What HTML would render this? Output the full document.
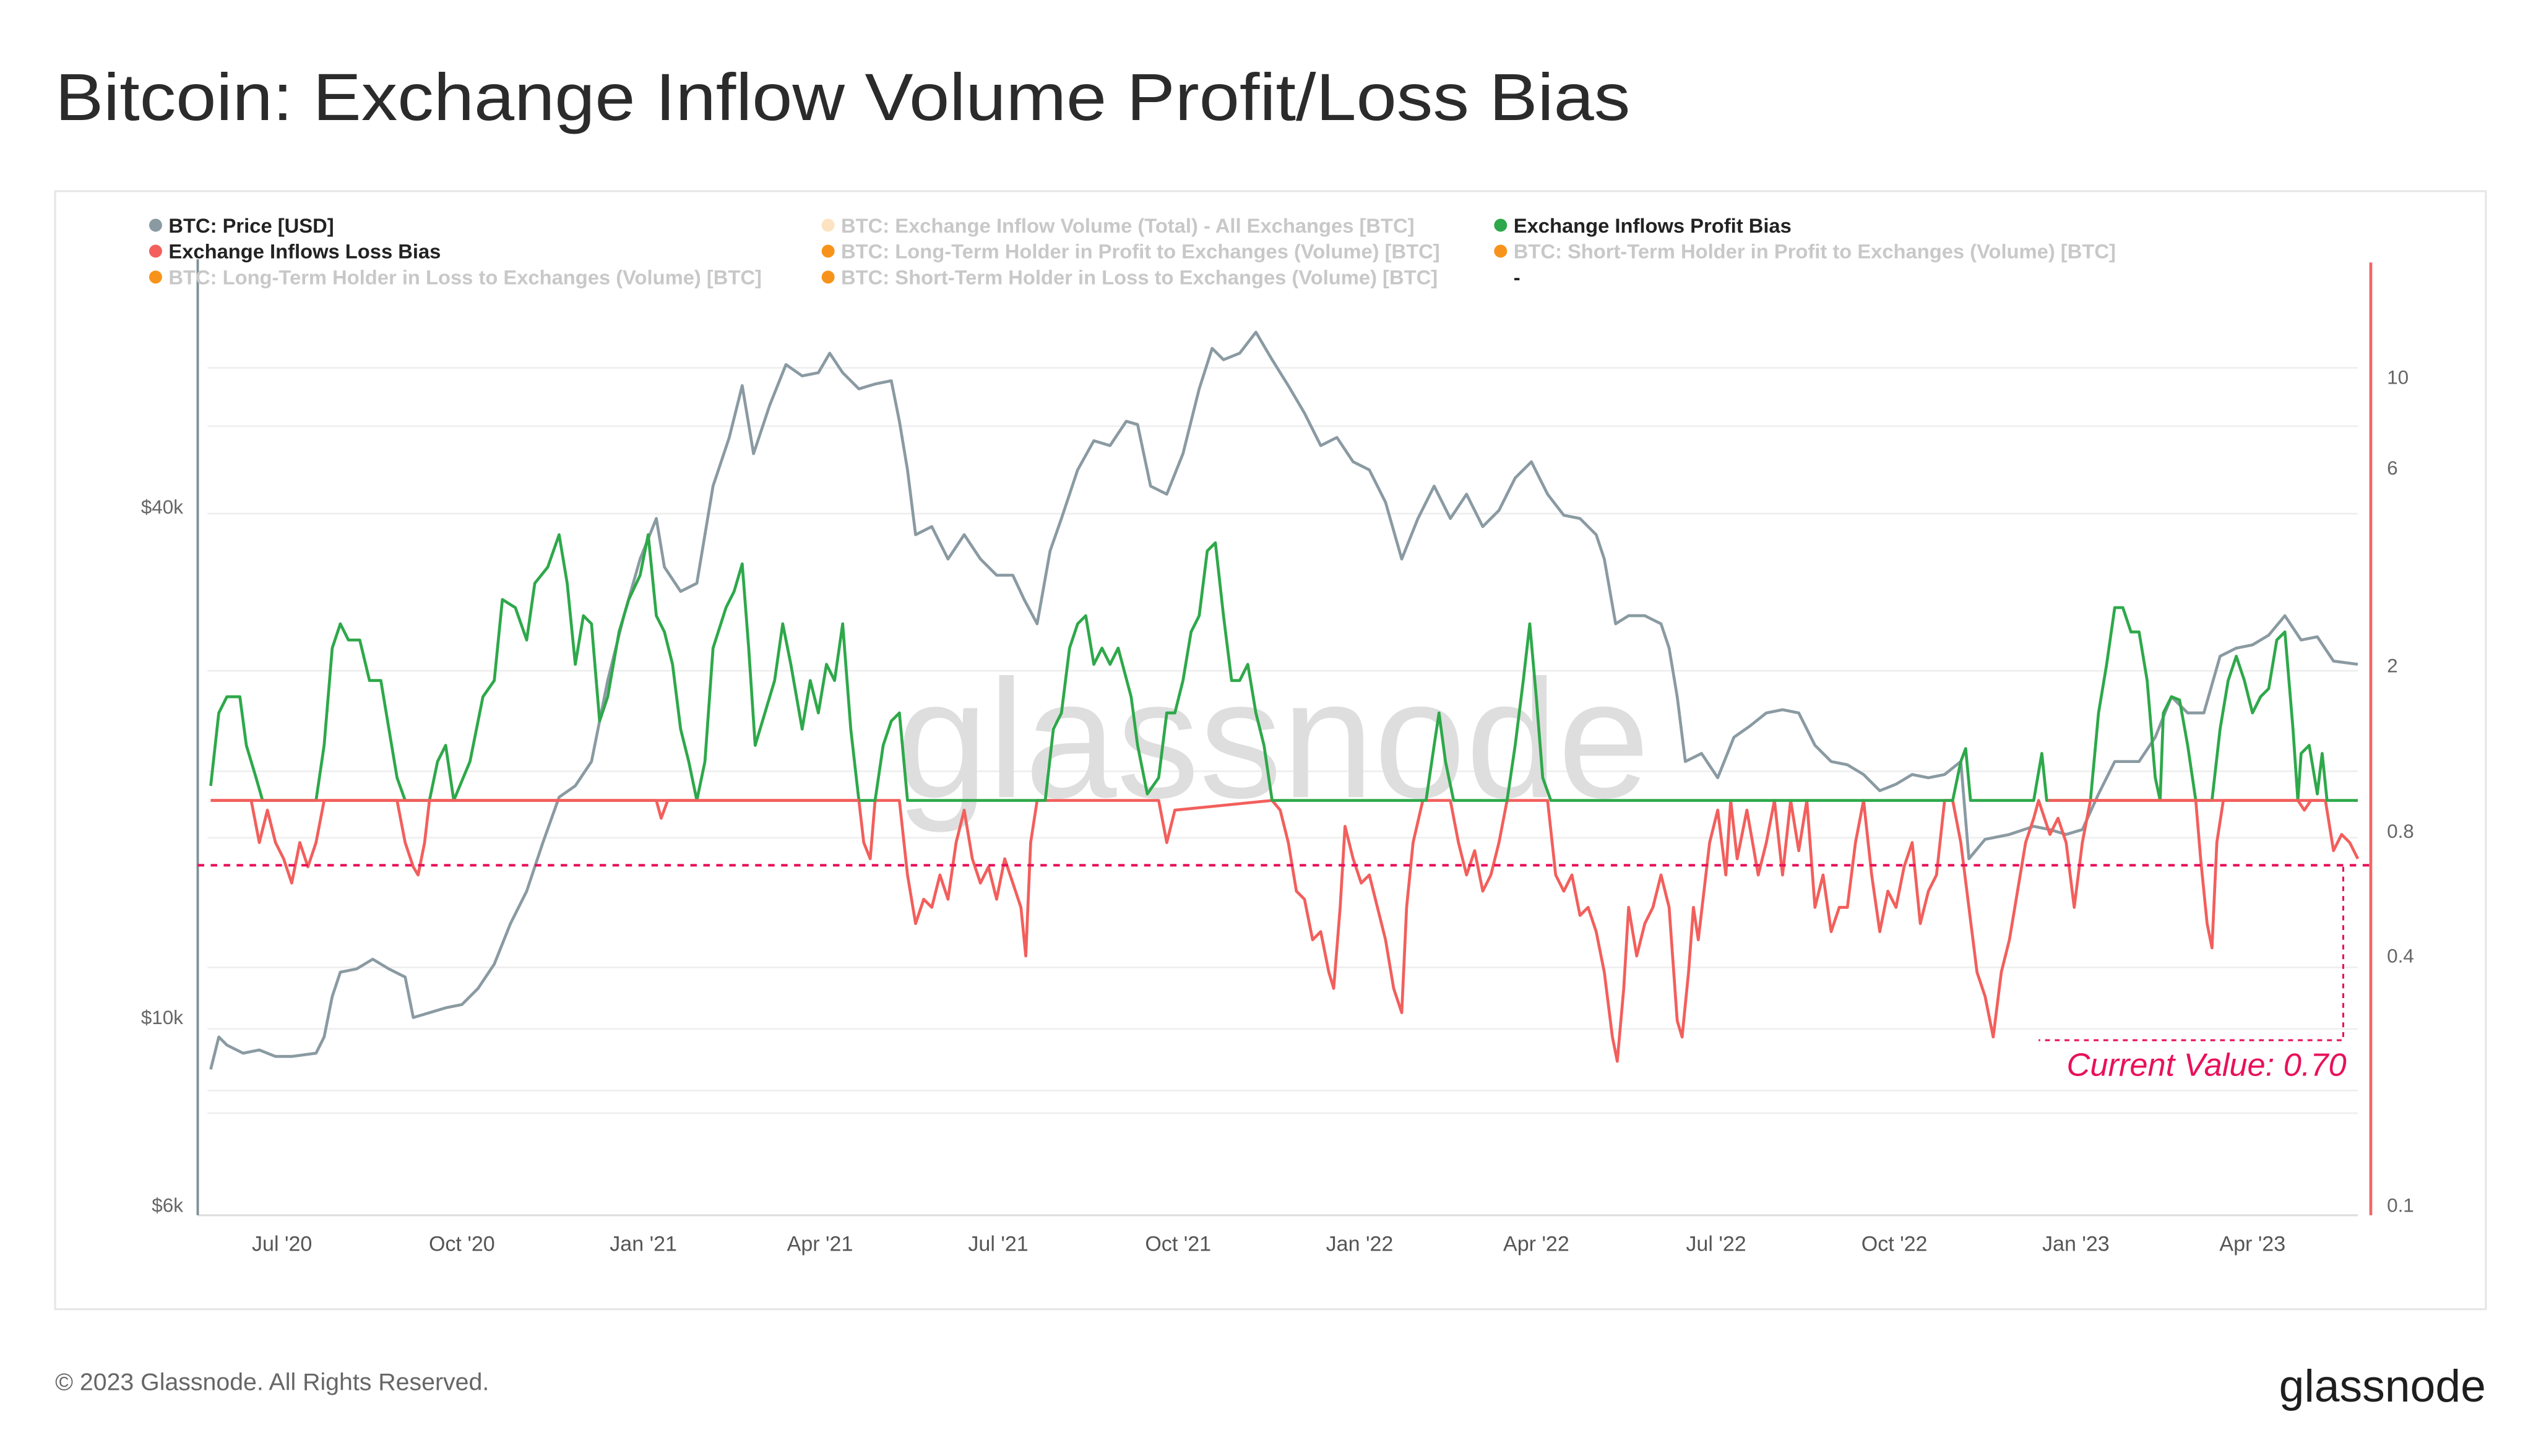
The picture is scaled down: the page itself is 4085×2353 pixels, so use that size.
<!DOCTYPE html>
<html><head><meta charset="utf-8"><style>
html,body{margin:0;padding:0;background:#fff}
svg{display:block}
text{font-family:"Liberation Sans",sans-serif}
</style></head><body>
<svg width="4085" height="2353" viewBox="0 0 1560 898.6" xmlns="http://www.w3.org/2000/svg">
<rect x="0" y="0" width="1560" height="898.6" fill="#fff"/>
<text x="34" y="74" font-size="41" fill="#2b2b2b" textLength="972" lengthAdjust="spacingAndGlyphs">Bitcoin: Exchange Inflow Volume Profit/Loss Bias</text>
<rect x="34" y="118" width="1500" height="690" fill="none" stroke="#e6e6e6" stroke-width="1.2"/>
<g stroke="#eeeeee" stroke-width="1">
<line x1="128" x2="1455" y1="227" y2="227"/><line x1="128" x2="1455" y1="263" y2="263"/>
<line x1="128" x2="1455" y1="317" y2="317"/><line x1="128" x2="1455" y1="414" y2="414"/>
<line x1="128" x2="1455" y1="476" y2="476"/><line x1="128" x2="1455" y1="517" y2="517"/>
<line x1="128" x2="1455" y1="597" y2="597"/><line x1="128" x2="1455" y1="635" y2="635"/>
<line x1="128" x2="1455" y1="673" y2="673"/><line x1="128" x2="1455" y1="687" y2="687"/>
</g>
<line x1="122" x2="1455" y1="750" y2="750" stroke="#dddddd" stroke-width="1.2"/>
<line x1="122" x2="122" y1="160" y2="750" stroke="#7f9198" stroke-width="1.5"/>
<line x1="1463" x2="1463" y1="162" y2="750" stroke="#f26565" stroke-width="1.8"/>
<text x="553" y="492" font-size="104" fill="#dedede" textLength="465" lengthAdjust="spacingAndGlyphs">glassnode</text>
<g font-size="12.5" font-weight="bold">
<circle cx="96" cy="139" r="4" fill="#8a9aa2"/><text x="104" y="143.5" fill="#222">BTC: Price [USD]</text>
<circle cx="96" cy="155" r="4" fill="#f25f5c"/><text x="104" y="159.5" fill="#222">Exchange Inflows Loss Bias</text>
<circle cx="96" cy="171" r="4" fill="#f7931a"/><text x="104" y="175.5" fill="#c8c8c8">BTC: Long-Term Holder in Loss to Exchanges (Volume) [BTC]</text>
<circle cx="511" cy="139" r="4" fill="#fde3c2"/><text x="519" y="143.5" fill="#c8c8c8">BTC: Exchange Inflow Volume (Total) - All Exchanges [BTC]</text>
<circle cx="511" cy="155" r="4" fill="#f7931a"/><text x="519" y="159.5" fill="#c8c8c8">BTC: Long-Term Holder in Profit to Exchanges (Volume) [BTC]</text>
<circle cx="511" cy="171" r="4" fill="#f7931a"/><text x="519" y="175.5" fill="#c8c8c8">BTC: Short-Term Holder in Loss to Exchanges (Volume) [BTC]</text>
<circle cx="926" cy="139" r="4" fill="#2ea84a"/><text x="934" y="143.5" fill="#222">Exchange Inflows Profit Bias</text>
<circle cx="926" cy="155" r="4" fill="#f7931a"/><text x="934" y="159.5" fill="#c8c8c8">BTC: Short-Term Holder in Profit to Exchanges (Volume) [BTC]</text>
<text x="934" y="175.5" fill="#222">-</text>
</g>
<g font-size="12" fill="#666">
<text x="113" y="317" text-anchor="end">$40k</text>
<text x="113" y="632" text-anchor="end">$10k</text>
<text x="113" y="748" text-anchor="end">$6k</text>
<text x="1473" y="237">10</text><text x="1473" y="293">6</text><text x="1473" y="415">2</text>
<text x="1473" y="517">0.8</text><text x="1473" y="594">0.4</text><text x="1473" y="748">0.1</text>
</g>
<g font-size="13" fill="#555" text-anchor="middle">
<text x="174" y="772">Jul '20</text><text x="285" y="772">Oct '20</text><text x="397" y="772">Jan '21</text>
<text x="506" y="772">Apr '21</text><text x="616" y="772">Jul '21</text><text x="727" y="772">Oct '21</text>
<text x="839" y="772">Jan '22</text><text x="948" y="772">Apr '22</text><text x="1059" y="772">Jul '22</text>
<text x="1169" y="772">Oct '22</text><text x="1281" y="772">Jan '23</text><text x="1390" y="772">Apr '23</text>
</g>
<polyline fill="none" stroke="#8a9aa2" stroke-width="1.8" stroke-linejoin="round" points="130,660 135,640 140,645 150,650 160,648 170,652 180,652 195,650 200,640 205,615 210,600 220,598 230,592 240,598 250,603 255,628 265,625 275,622 285,620 295,610 305,595 315,570 325,550 335,520 345,492 355,485 365,470 375,420 385,380 395,345 405,320 410,350 420,365 430,360 440,300 450,270 458,238 465,280 475,250 485,225 495,232 505,230 512,218 520,230 530,240 540,237 550,235 555,260 560,290 565,330 575,325 585,345 595,330 605,345 615,355 625,355 632,370 640,385 648,340 655,320 665,290 675,272 685,275 695,260 702,262 710,300 720,305 730,280 740,240 748,215 755,222 765,218 775,205 785,222 795,238 805,255 815,275 825,270 835,285 845,290 855,310 865,345 875,320 885,300 895,320 905,305 915,325 925,315 935,295 945,285 955,305 965,318 975,320 985,330 990,345 997,385 1005,380 1015,380 1025,385 1030,400 1035,430 1040,470 1050,465 1060,480 1070,455 1080,448 1090,440 1100,438 1110,440 1120,460 1130,470 1140,472 1150,478 1160,488 1170,484 1180,478 1190,480 1200,478 1210,470 1215,530 1225,518 1240,515 1255,510 1265,512 1275,515 1285,512 1295,490 1305,470 1320,470 1330,455 1340,430 1350,440 1360,440 1370,405 1380,400 1390,398 1400,392 1410,380 1420,395 1430,393 1440,408 1455,410"/>
<polyline fill="none" stroke="#f25f5c" stroke-width="1.8" stroke-linejoin="round" points="130,494 155,494 160,520 165,500 170,520 175,530 180,545 185,520 190,535 195,520 200,494 245,494 250,520 255,535 258,540 262,520 265,494 405,494 408,505 412,494 530,494 533,520 537,530 540,494 555,494 560,540 565,570 570,555 575,560 580,540 585,555 590,520 595,500 600,530 605,545 610,535 615,555 620,530 625,545 630,560 633,590 636,520 640,494 715,494 720,520 725,500 785,494 790,500 795,520 800,550 805,555 810,580 815,575 820,600 823,610 827,560 830,510 835,530 840,545 845,540 850,560 855,580 860,610 865,625 868,560 872,520 878,494 895,494 900,520 905,540 910,525 915,550 920,540 925,520 930,494 955,494 960,540 965,550 970,540 975,565 980,560 985,575 990,600 995,640 998,655 1002,610 1005,560 1010,590 1015,570 1020,560 1025,540 1030,560 1035,630 1038,640 1042,600 1045,560 1048,580 1055,520 1060,500 1065,540 1068,494 1072,530 1078,500 1085,540 1090,520 1095,494 1100,540 1105,494 1110,525 1115,494 1120,560 1125,540 1130,575 1135,560 1140,560 1145,520 1150,494 1155,540 1160,575 1165,550 1170,560 1175,535 1180,520 1185,570 1190,550 1195,540 1200,494 1205,494 1210,520 1215,560 1220,600 1225,615 1230,640 1235,600 1240,580 1245,550 1250,520 1255,505 1258,494 1265,515 1270,505 1275,520 1280,560 1285,520 1290,494 1355,494 1358,530 1362,570 1365,585 1368,520 1372,494 1418,494 1422,500 1426,494 1435,494 1440,525 1445,515 1450,520 1455,530"/>
<polyline fill="none" stroke="#2ea84a" stroke-width="1.8" stroke-linejoin="round" points="130,485 135,440 140,430 148,430 152,460 158,480 162,494 195,494 200,460 205,400 210,385 215,395 222,395 228,420 235,420 240,450 245,480 250,494 265,494 270,470 275,460 280,494 290,470 298,430 305,420 310,370 318,375 325,395 330,360 338,350 345,330 350,360 355,410 360,380 365,385 370,445 375,430 382,390 388,370 395,355 400,330 405,380 410,390 415,410 420,450 425,470 430,494 435,470 440,400 448,375 453,365 458,348 462,400 466,460 472,440 478,420 483,385 488,410 495,450 500,420 505,440 510,410 515,420 520,385 525,450 530,494 540,494 545,460 550,445 555,440 560,494 645,494 650,450 655,440 660,400 665,385 670,380 675,410 680,400 685,410 690,400 698,430 702,460 708,490 715,480 720,440 725,440 730,420 735,390 740,380 745,340 750,335 755,380 760,420 765,420 770,410 775,440 780,460 785,494 880,494 885,460 888,440 892,470 897,494 930,494 935,460 940,420 944,385 948,430 952,480 957,494 1205,494 1210,470 1213,462 1216,494 1255,494 1260,465 1263,494 1290,494 1295,440 1300,410 1305,375 1310,375 1315,390 1320,390 1325,420 1330,480 1333,494 1335,440 1340,430 1345,432 1350,460 1355,494 1365,494 1370,450 1375,420 1380,405 1385,420 1390,440 1395,430 1400,425 1405,395 1410,390 1415,450 1418,494 1420,465 1425,460 1430,490 1433,465 1436,494 1455,494"/>
<line x1="130" x2="530" y1="494" y2="494" stroke="#f25f5c" stroke-width="1.8"/>
<line x1="1264" x2="1434" y1="494" y2="494" stroke="#f25f5c" stroke-width="1.8"/>
<line x1="122" x2="1463" y1="534" y2="534" stroke="#e8115a" stroke-width="1.6" stroke-dasharray="4,4"/>
<polyline fill="none" stroke="#e8115a" stroke-width="1.2" stroke-dasharray="3,3" points="1446,535 1446,642 1258,642"/>
<text x="1448" y="664" font-size="20" font-style="italic" fill="#e8115a" text-anchor="end">Current Value: 0.70</text>
<text x="34" y="858" font-size="15" fill="#666">© 2023 Glassnode. All Rights Reserved.</text>
<text x="1534" y="865" font-size="28" fill="#1e1e1e" text-anchor="end">glassnode</text>
</svg>
</body></html>
